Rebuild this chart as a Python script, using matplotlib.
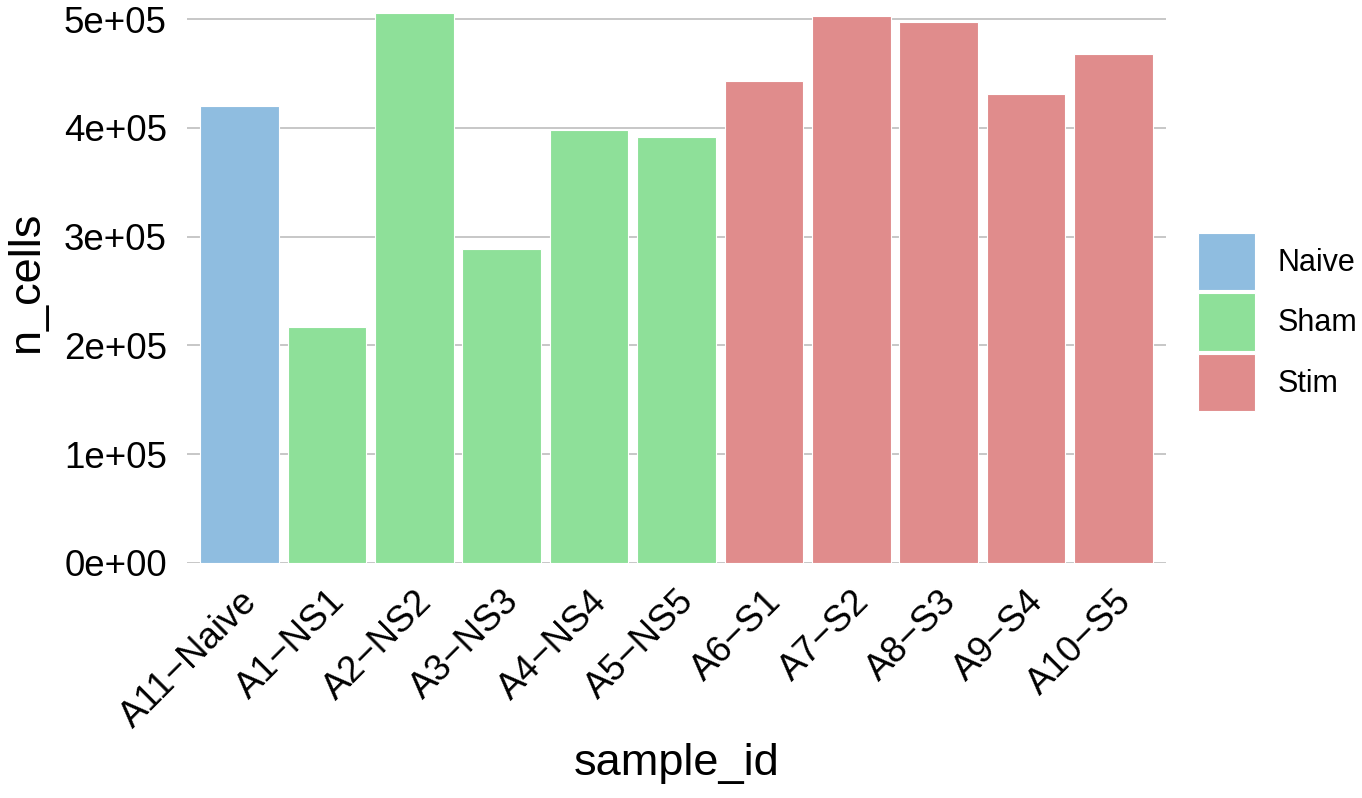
import matplotlib
matplotlib.use("Agg")
import matplotlib.pyplot as plt
from matplotlib.patches import Patch
from matplotlib.ticker import FuncFormatter

plt.rcParams["font.family"] = ["Liberation Sans", "DejaVu Sans"]

# data
sample_ids = ["A11−Naive", "A1−NS1", "A2−NS2", "A3−NS3", "A4−NS4", "A5−NS5",
              "A6−S1", "A7−S2", "A8−S3", "A9−S4", "A10−S5"]
groups = ["Naive", "Sham", "Sham", "Sham", "Sham", "Sham",
          "Stim", "Stim", "Stim", "Stim", "Stim"]
n_cells = [420000, 217000, 506000, 289000, 398000, 392000,
           443000, 503000, 497000, 431000, 468000]

group_names = ["Naive", "Sham", "Stim"]
group_colors = {"Naive": "#8FBDE0", "Sham": "#8EE099", "Stim": "#E08C8C"}

fig = plt.figure(figsize=(13.62, 7.98), dpi=100)
ax = fig.add_axes([187 / 1362, 1 - 563 / 798, (1166 - 187) / 1362, 563 / 798])

x = list(range(len(sample_ids)))
ax.bar(x, n_cells, width=0.9, color=[group_colors[g] for g in groups],
       edgecolor="white", linewidth=0.8, zorder=2)

ax.set_xlim(-0.6, len(sample_ids) - 0.4)
ax.set_ylim(0, 517500)
ax.set_yticks([0, 100000, 200000, 300000, 400000, 500000])
ax.yaxis.set_major_formatter(FuncFormatter(lambda v, p: f"{int(round(v / 1e5))}e+0{5 if v else 0}"))
ax.grid(axis="y", color="#BEBEBE", linewidth=1.2, zorder=0)
ax.set_axisbelow(True)
for s in ax.spines.values():
    s.set_visible(False)
ax.tick_params(length=0, labelsize=26.5, colors="black")
ax.tick_params(axis="y", pad=14.5)
ax.tick_params(axis="x", pad=15)

ax.set_xticks(x)
ax.set_xticklabels(sample_ids, rotation=45, ha="right", va="top",
                   rotation_mode="anchor")

ax.set_xlabel("sample_id", fontsize=32.5, labelpad=6)
ax.set_ylabel("n_cells", fontsize=32.5, labelpad=12)

handles = [Patch(facecolor=group_colors[g], edgecolor="white", linewidth=0.8) for g in group_names]
fig.legend(handles, group_names, loc="center left",
           bbox_to_anchor=(1198 / 1362, 1 - 322 / 798), frameon=False,
           fontsize=22, handlelength=1.86, handleheight=2.52,
           labelspacing=0.1, handletextpad=0.75, borderpad=0, borderaxespad=0)

plt.savefig("out.png", dpi=100)
plt.close()
